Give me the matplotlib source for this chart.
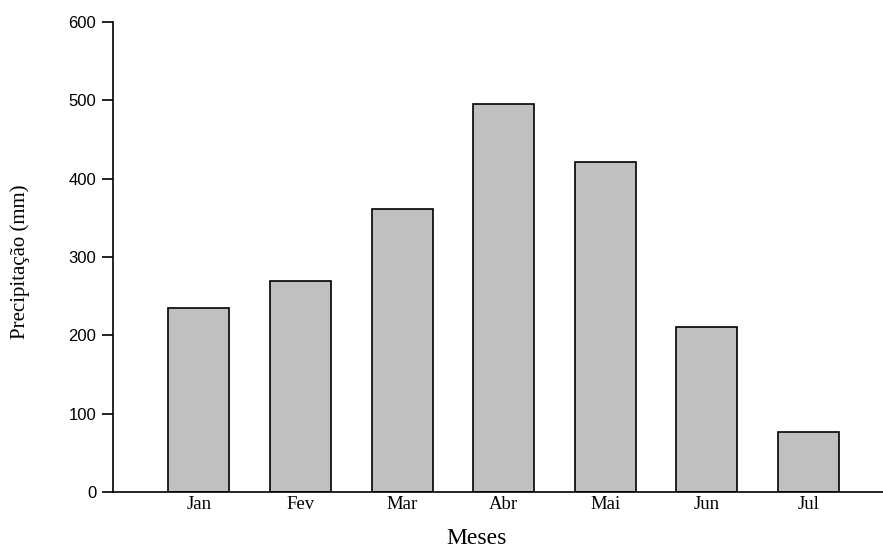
import matplotlib
matplotlib.use("Agg")
import matplotlib.pyplot as plt

months = ["Jan", "Fev", "Mar", "Abr", "Mai", "Jun", "Jul"]
precip = [235, 270, 361, 495, 421, 211, 77]
yticks = [0, 100, 200, 300, 400, 500, 600]

W, H = 883, 548
fig = plt.figure(figsize=(W / 100, H / 100), dpi=100)
ax = fig.add_axes([113 / W, 56 / H, 1 - 113 / W, 470 / H])

x = list(range(len(months)))
ax.bar(x, precip, width=0.6, color="#c0c0c0", edgecolor="black", linewidth=1.2)

ax.set_xlim(-0.846, 6.733)
ax.set_ylim(0, 600)
ax.set_yticks(yticks)
ax.set_yticklabels([str(v) for v in yticks], family="Liberation Sans", fontsize=12)
ax.set_xticks(x)
ax.set_xticklabels(months, family="Liberation Serif", fontsize=13.5)
ax.tick_params(axis="x", length=0, pad=3)
ax.tick_params(axis="y", length=8, width=1.2, pad=4, direction="out")

for s in ["top", "right"]:
    ax.spines[s].set_visible(False)
for s in ["left", "bottom"]:
    ax.spines[s].set_linewidth(1.2)

fig.text(20 / W, 1 - 262 / H, "Precipitação (mm)", family="Liberation Serif",
         fontsize=15, rotation=90, ha="center", va="center")
fig.text(477 / W, 4 / H, "Meses", family="Liberation Serif",
         fontsize=17, ha="center", va="baseline")

fig.savefig("out.png", dpi=100)
